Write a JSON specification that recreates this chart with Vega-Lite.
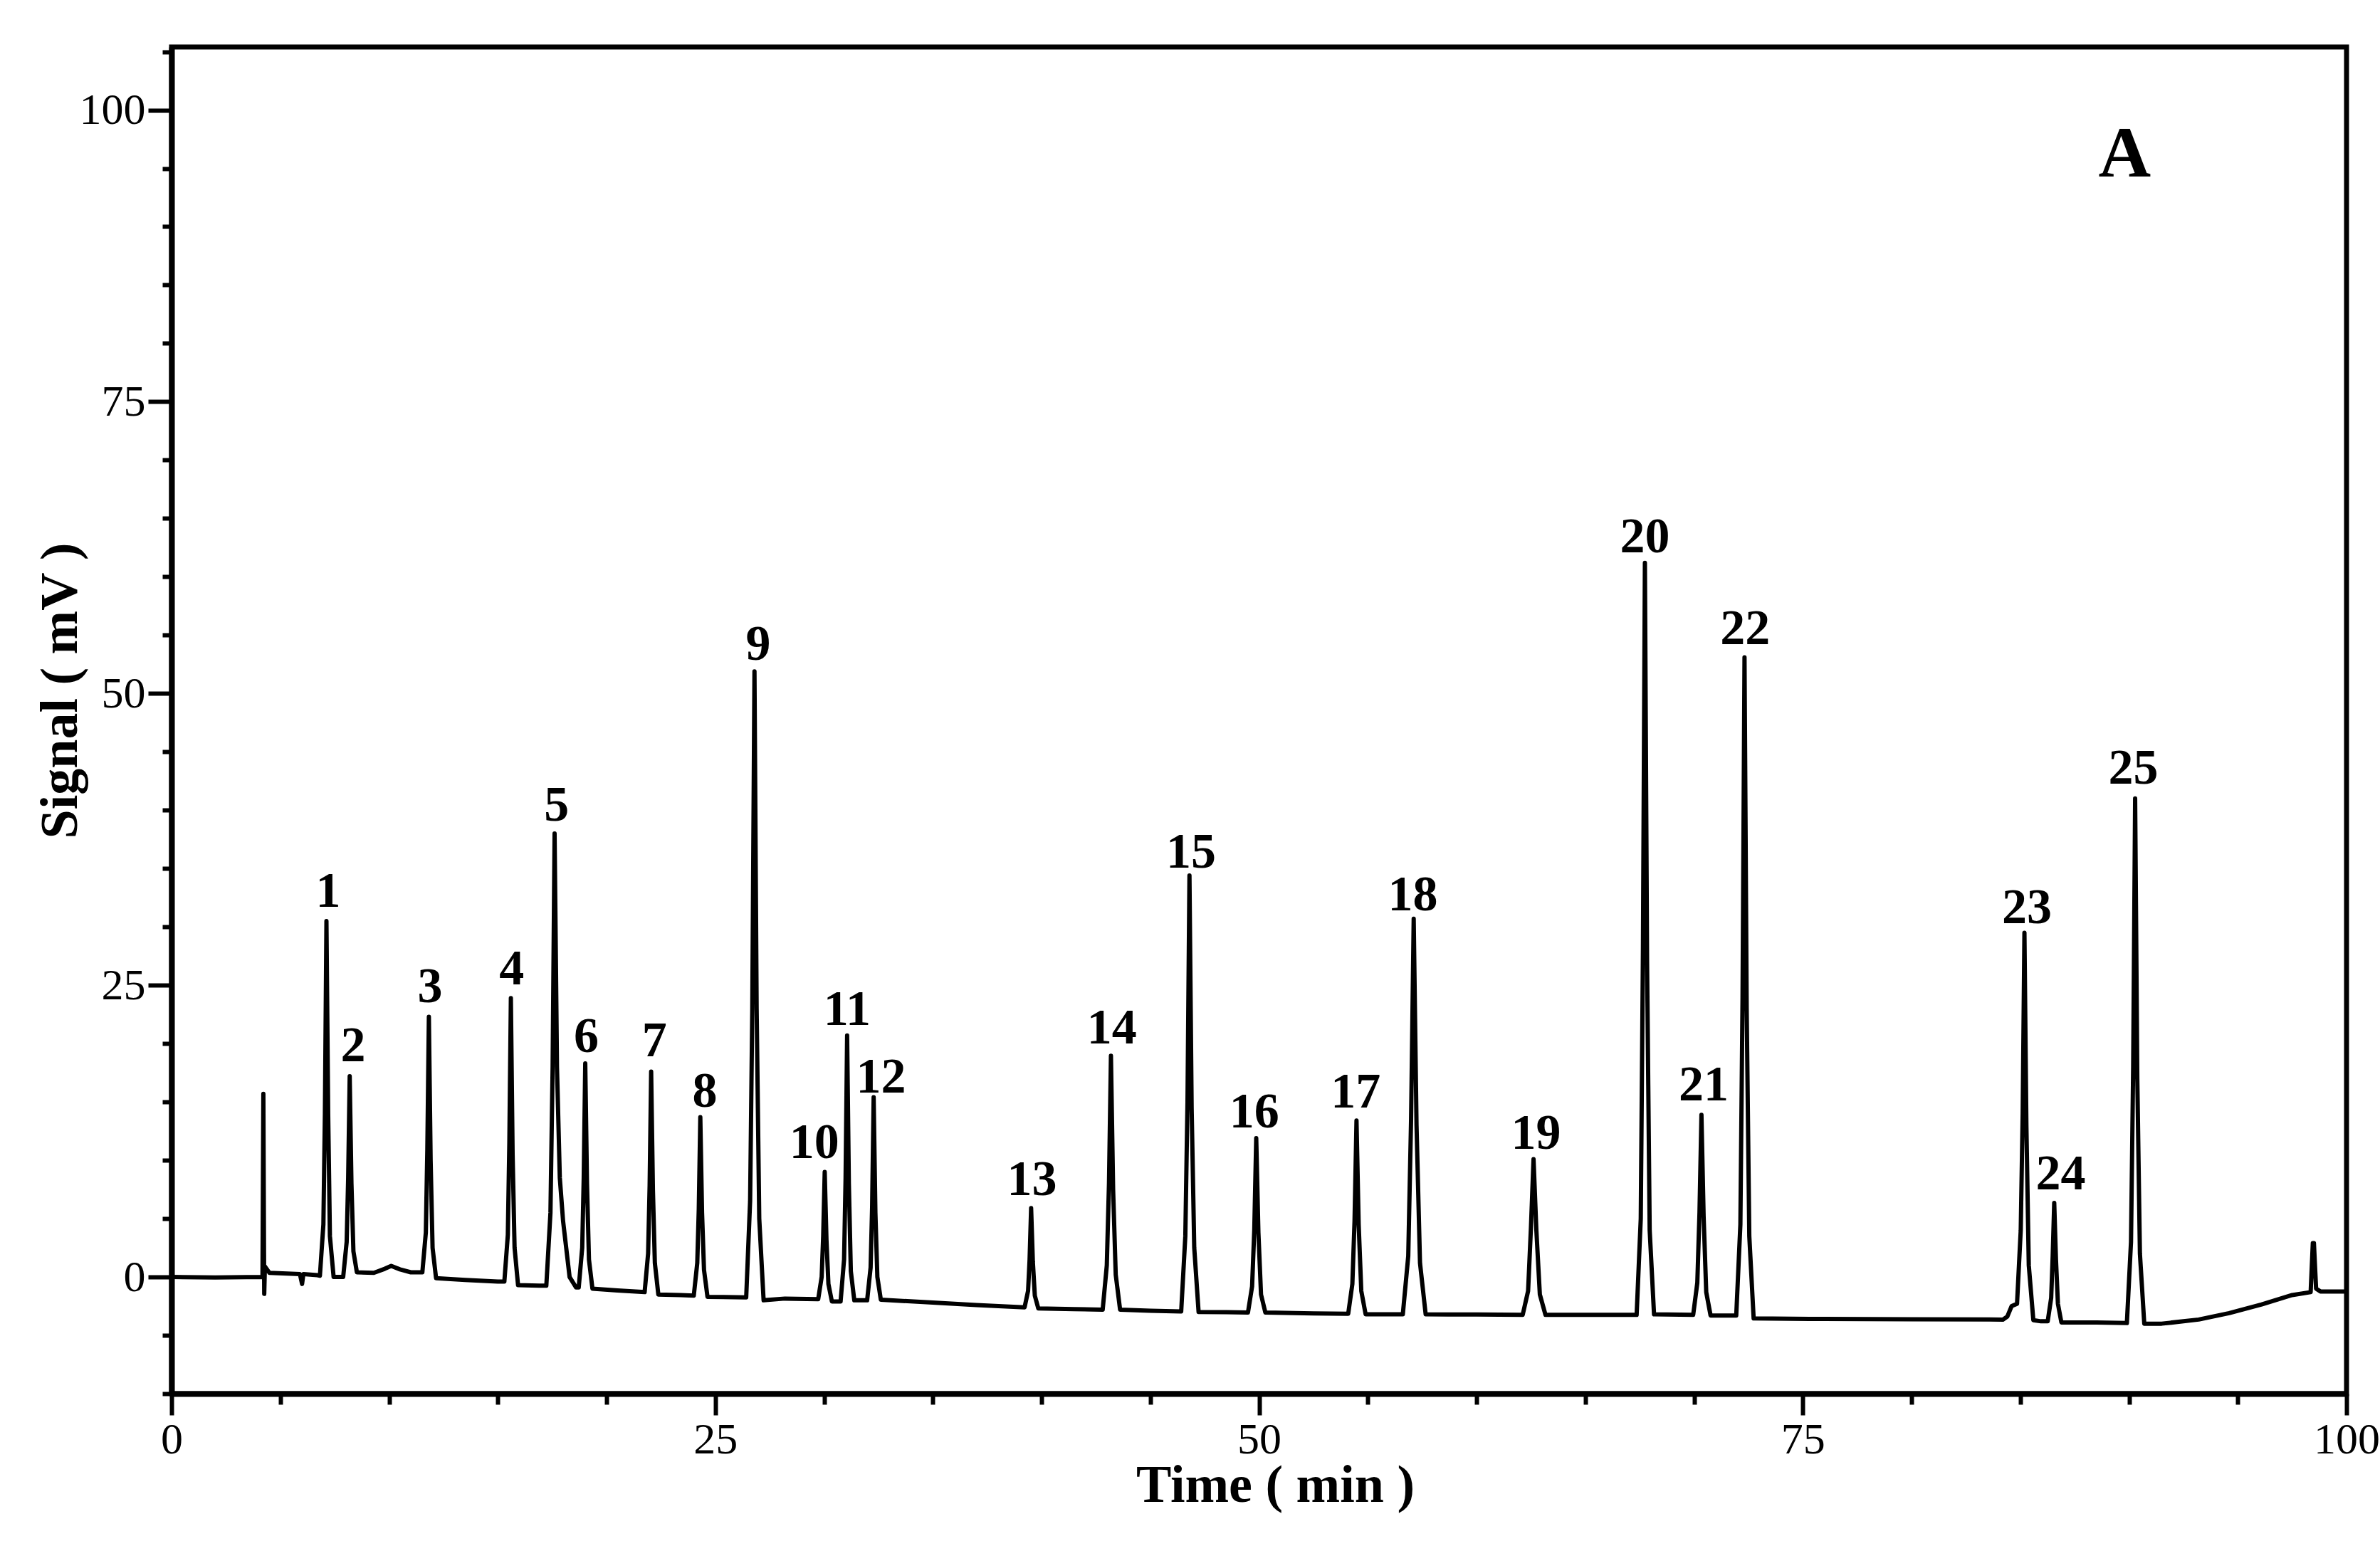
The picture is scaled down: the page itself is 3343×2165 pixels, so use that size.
{
  "$schema": "https://vega.github.io/schema/vega-lite/v6.json",
  "width": 3055,
  "height": 1892,
  "autosize": {"type": "none"},
  "padding": {"left": 241, "top": 66, "right": 47, "bottom": 207},
  "background": "white",
  "config": {"view": {"stroke": "black", "strokeWidth": 7}, "font": "Liberation Serif"},
  "datasets": {
    "trace": [
      {"t": 0, "v": 0}, {"t": 2, "v": -0.05}, {"t": 4.18, "v": 0},
      {"t": 4.22, "v": 15.7}, {"t": 4.25, "v": 2.0}, {"t": 4.26, "v": -1.45}, {"t": 4.29, "v": 0.9}, {"t": 4.5, "v": 0.35},
      {"t": 5.9, "v": 0.25}, {"t": 6.0, "v": -0.6}, {"t": 6.06, "v": 0.25}, {"t": 6.7, "v": 0.15},
      {"t": 6.82, "v": 0.1}, {"t": 6.98, "v": 4.5}, {"t": 7.05, "v": 14.0}, {"t": 7.12, "v": 30.5}, {"t": 7.2, "v": 14.0}, {"t": 7.28, "v": 3.5}, {"t": 7.45, "v": 0.0},
      {"t": 7.85, "v": 0.0},
      {"t": 7.89, "v": 0.0}, {"t": 8.05, "v": 3.0}, {"t": 8.12, "v": 8.5}, {"t": 8.19, "v": 17.2}, {"t": 8.27, "v": 8.0}, {"t": 8.36, "v": 2.2}, {"t": 8.52, "v": 0.4},
      {"t": 9.3, "v": 0.35}, {"t": 9.8, "v": 0.7}, {"t": 10.1, "v": 0.95}, {"t": 10.5, "v": 0.65}, {"t": 11.0, "v": 0.4}, {"t": 11.4, "v": 0.4},
      {"t": 11.53, "v": 0.4}, {"t": 11.69, "v": 3.8}, {"t": 11.76, "v": 11.0}, {"t": 11.83, "v": 22.3}, {"t": 11.91, "v": 10.0}, {"t": 12.0, "v": 2.5}, {"t": 12.16, "v": -0.1},
      {"t": 13.5, "v": -0.25}, {"t": 15.0, "v": -0.4},
      {"t": 15.3, "v": -0.4}, {"t": 15.46, "v": 3.6}, {"t": 15.53, "v": 11.5}, {"t": 15.6, "v": 23.9}, {"t": 15.68, "v": 10.5}, {"t": 15.77, "v": 2.5}, {"t": 15.93, "v": -0.7},
      {"t": 16.9, "v": -0.75},
      {"t": 17.23, "v": -0.75}, {"t": 17.42, "v": 5.5}, {"t": 17.52, "v": 18.0}, {"t": 17.61, "v": 38.0}, {"t": 17.72, "v": 18.0}, {"t": 17.85, "v": 8.5}, {"t": 18.0, "v": 4.8}, {"t": 18.3, "v": 0.0}, {"t": 18.6, "v": -0.9},
      {"t": 18.72, "v": -0.9}, {"t": 18.88, "v": 2.5}, {"t": 18.95, "v": 8.5}, {"t": 19.02, "v": 18.3}, {"t": 19.1, "v": 8.0}, {"t": 19.19, "v": 1.5}, {"t": 19.35, "v": -1.0},
      {"t": 20.5, "v": -1.15}, {"t": 21.75, "v": -1.3},
      {"t": 21.91, "v": 2.0}, {"t": 21.98, "v": 7.8}, {"t": 22.05, "v": 17.6}, {"t": 22.13, "v": 7.5}, {"t": 22.22, "v": 1.2}, {"t": 22.38, "v": -1.5},
      {"t": 23.4, "v": -1.55}, {"t": 24.01, "v": -1.6},
      {"t": 24.17, "v": 1.2}, {"t": 24.24, "v": 5.8}, {"t": 24.31, "v": 13.7}, {"t": 24.39, "v": 5.5}, {"t": 24.48, "v": 0.6}, {"t": 24.64, "v": -1.7},
      {"t": 26.42, "v": -1.75},
      {"t": 26.6, "v": 6.5}, {"t": 26.7, "v": 23.0}, {"t": 26.8, "v": 51.9}, {"t": 26.9, "v": 23.0}, {"t": 27.02, "v": 5.0}, {"t": 27.22, "v": -2.0},
      {"t": 28.2, "v": -1.85}, {"t": 29.73, "v": -1.9},
      {"t": 29.89, "v": 0.0}, {"t": 29.96, "v": 3.5}, {"t": 30.03, "v": 9.0}, {"t": 30.11, "v": 3.2}, {"t": 30.2, "v": -0.6}, {"t": 30.36, "v": -2.1},
      {"t": 30.76, "v": -2.1}, {"t": 30.92, "v": 1.5}, {"t": 30.99, "v": 8.5}, {"t": 31.06, "v": 20.7}, {"t": 31.14, "v": 8.0}, {"t": 31.23, "v": 0.5}, {"t": 31.39, "v": -2.0},
      {"t": 31.98, "v": -2.0}, {"t": 32.14, "v": 0.8}, {"t": 32.21, "v": 6.0}, {"t": 32.28, "v": 15.4}, {"t": 32.36, "v": 5.5}, {"t": 32.45, "v": 0.0}, {"t": 32.61, "v": -1.95},
      {"t": 35.0, "v": -2.2}, {"t": 37.0, "v": -2.4}, {"t": 39.22, "v": -2.6},
      {"t": 39.38, "v": -1.2}, {"t": 39.45, "v": 1.5}, {"t": 39.52, "v": 5.9}, {"t": 39.6, "v": 1.3}, {"t": 39.69, "v": -1.6}, {"t": 39.85, "v": -2.7},
      {"t": 41.5, "v": -2.75}, {"t": 42.81, "v": -2.8},
      {"t": 43.0, "v": 1.0}, {"t": 43.1, "v": 8.0}, {"t": 43.19, "v": 18.95}, {"t": 43.29, "v": 7.5}, {"t": 43.41, "v": 0.2}, {"t": 43.61, "v": -2.8},
      {"t": 45.0, "v": -2.9}, {"t": 46.42, "v": -2.95},
      {"t": 46.61, "v": 3.5}, {"t": 46.71, "v": 15.0}, {"t": 46.8, "v": 34.4}, {"t": 46.9, "v": 14.5}, {"t": 47.02, "v": 2.5}, {"t": 47.22, "v": -3.0},
      {"t": 48.5, "v": -3.02}, {"t": 49.49, "v": -3.05},
      {"t": 49.68, "v": -0.8}, {"t": 49.78, "v": 4.0}, {"t": 49.87, "v": 11.9}, {"t": 49.97, "v": 3.8}, {"t": 50.09, "v": -1.5}, {"t": 50.29, "v": -3.05},
      {"t": 52.5, "v": -3.12}, {"t": 54.1, "v": -3.15},
      {"t": 54.29, "v": -0.6}, {"t": 54.39, "v": 4.8}, {"t": 54.48, "v": 13.4}, {"t": 54.58, "v": 4.5}, {"t": 54.7, "v": -1.2}, {"t": 54.9, "v": -3.2},
      {"t": 56.61, "v": -3.2},
      {"t": 56.86, "v": 1.8}, {"t": 56.99, "v": 13.5}, {"t": 57.11, "v": 30.7}, {"t": 57.24, "v": 13.0}, {"t": 57.4, "v": 1.2}, {"t": 57.66, "v": -3.2},
      {"t": 60.0, "v": -3.22}, {"t": 62.12, "v": -3.25},
      {"t": 62.37, "v": -1.2}, {"t": 62.5, "v": 4.2}, {"t": 62.62, "v": 10.1}, {"t": 62.75, "v": 4.0}, {"t": 62.91, "v": -1.5}, {"t": 63.17, "v": -3.25},
      {"t": 65.5, "v": -3.25}, {"t": 67.36, "v": -3.25},
      {"t": 67.55, "v": 5.0}, {"t": 67.65, "v": 28.0}, {"t": 67.74, "v": 61.2}, {"t": 67.84, "v": 27.0}, {"t": 67.96, "v": 4.0}, {"t": 68.16, "v": -3.2},
      {"t": 69.96, "v": -3.25},
      {"t": 70.15, "v": -0.5}, {"t": 70.25, "v": 5.5}, {"t": 70.34, "v": 13.9}, {"t": 70.44, "v": 5.2}, {"t": 70.56, "v": -1.3}, {"t": 70.76, "v": -3.3},
      {"t": 71.94, "v": -3.3}, {"t": 72.13, "v": 4.5}, {"t": 72.23, "v": 24.0}, {"t": 72.32, "v": 53.1}, {"t": 72.42, "v": 23.0}, {"t": 72.54, "v": 3.5}, {"t": 72.74, "v": -3.55},
      {"t": 76.0, "v": -3.6}, {"t": 80.0, "v": -3.62}, {"t": 84.2, "v": -3.65},
      {"t": 84.4, "v": -3.4}, {"t": 84.6, "v": -2.5}, {"t": 84.85, "v": -2.3},
      {"t": 85.02, "v": 4.0}, {"t": 85.11, "v": 14.0}, {"t": 85.19, "v": 29.5}, {"t": 85.28, "v": 13.0}, {"t": 85.39, "v": 1.0}, {"t": 85.6, "v": -3.7}, {"t": 85.95, "v": -3.8},
      {"t": 86.26, "v": -3.8}, {"t": 86.42, "v": -1.8}, {"t": 86.49, "v": 1.8}, {"t": 86.56, "v": 6.35}, {"t": 86.64, "v": 1.5}, {"t": 86.73, "v": -2.3}, {"t": 86.89, "v": -3.9},
      {"t": 88.5, "v": -3.9}, {"t": 89.9, "v": -3.95},
      {"t": 90.09, "v": 3.0}, {"t": 90.19, "v": 18.0}, {"t": 90.28, "v": 41.0}, {"t": 90.38, "v": 17.0}, {"t": 90.5, "v": 2.0}, {"t": 90.7, "v": -4.0},
      {"t": 91.5, "v": -4.0}, {"t": 92.5, "v": -3.8}, {"t": 93.2, "v": -3.65}, {"t": 94.6, "v": -3.1}, {"t": 96.1, "v": -2.35}, {"t": 97.5, "v": -1.55}, {"t": 98.35, "v": -1.3},
      {"t": 98.45, "v": 2.9}, {"t": 98.5, "v": 2.9}, {"t": 98.6, "v": -1.0}, {"t": 98.8, "v": -1.24}, {"t": 100, "v": -1.24}
    ],
    "peaks": [
      {"peak": "1", "lt": 7.2, "lv": 31.7}, {"peak": "2", "lt": 8.35, "lv": 18.5}, {"peak": "3", "lt": 11.88, "lv": 23.55},
      {"peak": "4", "lt": 15.64, "lv": 25.05}, {"peak": "5", "lt": 17.7, "lv": 39.07}, {"peak": "6", "lt": 19.07, "lv": 19.26},
      {"peak": "7", "lt": 22.2, "lv": 18.9}, {"peak": "8", "lt": 24.52, "lv": 14.6}, {"peak": "9", "lt": 26.97, "lv": 52.9},
      {"peak": "10", "lt": 29.55, "lv": 10.2}, {"peak": "11", "lt": 31.06, "lv": 21.6}, {"peak": "12", "lt": 32.62, "lv": 15.8},
      {"peak": "13", "lt": 39.56, "lv": 7.0}, {"peak": "14", "lt": 43.23, "lv": 20.0}, {"peak": "15", "lt": 46.87, "lv": 35.1},
      {"peak": "16", "lt": 49.78, "lv": 12.8}, {"peak": "17", "lt": 54.44, "lv": 14.5}, {"peak": "18", "lt": 57.07, "lv": 31.4},
      {"peak": "19", "lt": 62.73, "lv": 11.0}, {"peak": "20", "lt": 67.74, "lv": 62.1}, {"peak": "21", "lt": 70.44, "lv": 15.1},
      {"peak": "22", "lt": 72.35, "lv": 54.2}, {"peak": "23", "lt": 85.3, "lv": 30.3}, {"peak": "24", "lt": 86.86, "lv": 7.5},
      {"peak": "25", "lt": 90.2, "lv": 42.3}
    ],
    "panel": [{"label": "A", "t": 89.8, "v": 94.3}]
  },
  "layer": [
    {
      "data": {"name": "trace"},
      "mark": {"type": "line", "color": "black", "strokeWidth": 6, "strokeJoin": "round"},
      "encoding": {
        "x": {
          "field": "t",
          "type": "quantitative",
          "scale": {"domain": [0, 100], "nice": false, "zero": false},
          "axis": {
            "values": [0, 5, 10, 15, 20, 25, 30, 35, 40, 45, 50, 55, 60, 65, 70, 75, 80, 85, 90, 95, 100],
            "labelExpr": "datum.value % 25 === 0 ? datum.label : ''",
            "grid": false,
            "domainColor": "black",
            "domainWidth": 8,
            "tickColor": "black",
            "tickWidth": 6,
            "tickSize": {"condition": {"test": "datum.value % 25 === 0", "value": 30}, "value": 15},
            "labelFont": "Liberation Serif",
            "labelFontSize": 62,
            "labelColor": "black",
            "labelPadding": 4,
            "labelFlush": false,
            "labelOverlap": false,
            "title": "Time ( min )",
            "titleFont": "Liberation Serif",
            "titleFontWeight": "bold",
            "titleFontSize": 74,
            "titleColor": "black",
            "titleBaseline": "alphabetic",
            "titleX": 1550,
            "titleY": 151
          }
        },
        "y": {
          "field": "v",
          "type": "quantitative",
          "scale": {"domain": [-10, 105.4], "nice": false, "zero": false},
          "axis": {
            "values": [-10, -5, 0, 5, 10, 15, 20, 25, 30, 35, 40, 45, 50, 55, 60, 65, 70, 75, 80, 85, 90, 95, 100, 105],
            "labelExpr": "datum.value % 25 === 0 ? datum.label : ''",
            "grid": false,
            "domainColor": "black",
            "domainWidth": 8,
            "tickColor": "black",
            "tickWidth": 6,
            "tickSize": {"condition": {"test": "datum.value % 25 === 0", "value": 33}, "value": 13},
            "labelFont": "Liberation Serif",
            "labelFontSize": 62,
            "labelColor": "black",
            "labelPadding": 4,
            "labelFlush": false,
            "labelOverlap": false,
            "title": "Signal ( mV )",
            "titleFont": "Liberation Serif",
            "titleFontWeight": "bold",
            "titleFontSize": 74,
            "titleColor": "black",
            "titleBaseline": "alphabetic",
            "titleX": -134,
            "titleY": 904
          }
        }
      }
    },
    {
      "data": {"name": "peaks"},
      "mark": {"type": "text", "font": "Liberation Serif", "fontWeight": "bold", "fontSize": 70, "baseline": "alphabetic", "align": "center", "color": "black"},
      "encoding": {
        "x": {"field": "lt", "type": "quantitative"},
        "y": {"field": "lv", "type": "quantitative"},
        "text": {"field": "peak"}
      }
    },
    {
      "data": {"name": "panel"},
      "mark": {"type": "text", "font": "Liberation Serif", "fontWeight": "bold", "fontSize": 102, "baseline": "alphabetic", "align": "center", "color": "black"},
      "encoding": {
        "x": {"field": "t", "type": "quantitative"},
        "y": {"field": "v", "type": "quantitative"},
        "text": {"field": "label"}
      }
    }
  ]
}
